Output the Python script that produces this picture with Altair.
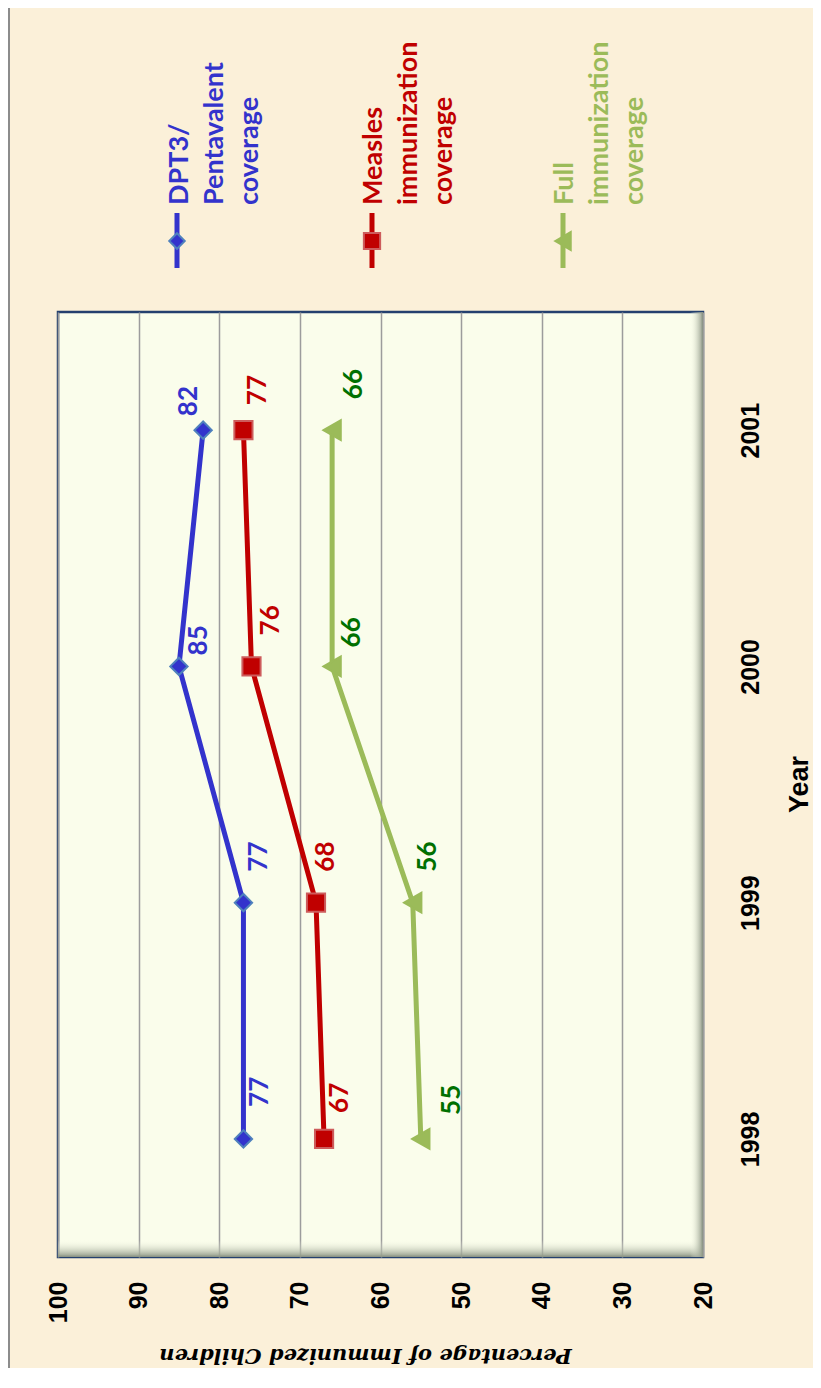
import altair as alt
import pandas as pd

# ---------------- data ----------------
years = ["1998", "1999", "2000", "2001"]
dpt3 = [77, 77, 85, 82]
measles = [67, 68, 76, 77]
full = [55, 56, 66, 66]
series_keys = ["dpt3", "measles", "full"]
legend_texts = ["DPT3/\nPentavalent\ncoverage",
                "Measles\nimmunization\ncoverage",
                "Full\nimmunization\ncoverage"]
x_ticks = [100, 90, 80, 70, 60, 50, 40, 30, 20]

rows = []
for key, vals in zip(series_keys, [dpt3, measles, full]):
    for yr, v in zip(years, vals):
        rows.append({"series": key, "year": yr, "value": v})
df = pd.DataFrame(rows)
deco = pd.DataFrame({"d": [0]})

# ---------------- layout / styles ----------------
W, H = 645, 945
PAD_L, PAD_T = 50, 304
TOTAL_W, TOTAL_H = 805, 1360
BG = "#FBF0D9"
PLOT_FILL = "#FAFDEB"

styles = {
    "dpt3": dict(line="#3333CC", label="#3333CC", shape="diamond", size=300,
                 stroke="#4F81BD", lx=119, tx=130),
    "measles": dict(line="#C00000", label="#C00000", shape="square", size=330,
                    stroke="#CD5C5C", lx=314, tx=324),
    "full": dict(line="#9BBB59", label="#007000", shape="triangle-left", size=400,
                 stroke="#9BBB59", lx=505, tx=515),
}
# screen offsets (right, down) of each value label from its point
label_offsets = {
    "dpt3": [(17, -47), (16, -46), (20, -26), (-14, -29)],
    "measles": [(16, -41), (10, -46), (19, -46), (15, -40)],
    "full": [(31, -39), (15, -46), (20, -34), (22, -46)],
}

axis_x = alt.Axis(
    values=x_ticks, title="Percentage of Immunized Children",
    labelAngle=270, labelAlign="right", labelBaseline="middle",
    labelFont="Liberation Sans", labelFontSize=25, labelFontWeight="bold",
    labelColor="black", labelPadding=24, labelFlush=False, labelOverlap=False,
    ticks=False, tickSize=0, domain=False,
    grid=True, gridColor="#9C9C9C", gridWidth=1.5,
    titleFont="DejaVu Serif", titleFontSize=21, titleFontWeight="bold",
    titleFontStyle="italic", titleColor="black", titleAngle=180,
    titleX=307, titleY=97, titleAlign="center", titleBaseline="middle",
)
axis_y = alt.Axis(
    orient="right", title="Year",
    labelAngle=270, labelAlign="center", labelBaseline="top",
    labelFont="Liberation Sans", labelFontSize=25, labelFontWeight="bold",
    labelColor="black", labelPadding=35,
    ticks=False, tickSize=0, domain=False, grid=False,
    titleAngle=270, titleX=96, titleY=472, titleAlign="center",
    titleBaseline="middle", titleFont="Liberation Sans", titleFontSize=27,
    titleFontWeight="bold", titleColor="black",
)

x_enc = alt.X("value:Q", scale=alt.Scale(domain=[20, 100], reverse=True, nice=False, zero=False), axis=axis_x)
y_enc = alt.Y("year:O", sort="descending", scale=alt.Scale(type="point", padding=0.5), axis=axis_y)

layers = []

# outer frame line (left)
layers.append(
    alt.Chart(deco).mark_rule(color="#8C8C8C", strokeWidth=2).encode(
        x=alt.value(-49), y=alt.value(-PAD_T), y2=alt.value(TOTAL_H - PAD_T)
    )
)

# inner bevel shading of plot area
grad_v = alt.LinearGradient(
    gradient="linear",
    stops=[alt.GradientStop(offset=0, color="rgba(250,253,235,0)"),
           alt.GradientStop(offset=1, color="#8C9584")],
    x1=0, x2=0, y1=0, y2=1)
grad_h = alt.LinearGradient(
    gradient="linear",
    stops=[alt.GradientStop(offset=0, color="rgba(250,253,235,0)"),
           alt.GradientStop(offset=1, color="#8C9584")],
    x1=0, x2=1, y1=0, y2=0)
layers.append(
    alt.Chart(deco).mark_rect(color=grad_v).encode(
        x=alt.value(0), x2=alt.value(W), y=alt.value(H - 17), y2=alt.value(H))
)
layers.append(
    alt.Chart(deco).mark_rect(color=grad_h).encode(
        x=alt.value(W - 13), x2=alt.value(W), y=alt.value(0), y2=alt.value(H))
)

for key in series_keys:
    st = styles[key]
    base = alt.Chart(df).transform_filter(alt.datum.series == key)
    layers.append(
        base.mark_line(color=st["line"], strokeWidth=5).encode(
            x=x_enc, y=y_enc, order=alt.Order("year:O"))
    )
    layers.append(
        base.mark_point(shape=st["shape"], size=st["size"], filled=True,
                        fill=st["line"], stroke=st["stroke"], strokeWidth=2,
                        opacity=1).encode(x=x_enc, y=y_enc)
    )
    for yr, (ox, oy) in zip(years, label_offsets[key]):
        layers.append(
            base.transform_filter(alt.datum.year == yr).mark_text(
                angle=270, align="center", baseline="middle",
                font="Lato", fontSize=26, fontWeight="bold",
                color=st["label"], dx=-oy, dy=ox,
            ).encode(x=x_enc, y=y_enc, text=alt.Text("value:Q"))
        )
    # legend entry
    layers.append(
        alt.Chart(deco).mark_rule(color=st["line"], strokeWidth=5).encode(
            x=alt.value(st["lx"]), y=alt.value(-99), y2=alt.value(-44))
    )
    layers.append(
        alt.Chart(deco).mark_point(shape=st["shape"], size=st["size"] * 0.8, filled=True,
                                   fill=st["line"], stroke=st["stroke"], strokeWidth=2,
                                   opacity=1).encode(
            x=alt.value(st["lx"]), y=alt.value(-71))
    )
    layers.append(
        alt.Chart(deco).mark_text(
            text=legend_texts[series_keys.index(key)], lineBreak="\n", lineHeight=35,
            angle=270, align="left", baseline="alphabetic",
            font="Lato", fontSize=27, fontWeight="bold", color=st["line"],
        ).encode(x=alt.value(st["tx"]), y=alt.value(-107))
    )

chart = alt.layer(*layers).properties(
    width=W, height=H,
    autosize=alt.AutoSizeParams(type="none"),
    padding={"left": PAD_L, "top": PAD_T,
             "right": TOTAL_W - PAD_L - W, "bottom": TOTAL_H - PAD_T - H},
    background=BG,
).configure_view(
    fill=PLOT_FILL, stroke="#24406E", strokeWidth=2.5
)

chart.save("out.html", embed_options={"renderer": "svg", "actions": False})
